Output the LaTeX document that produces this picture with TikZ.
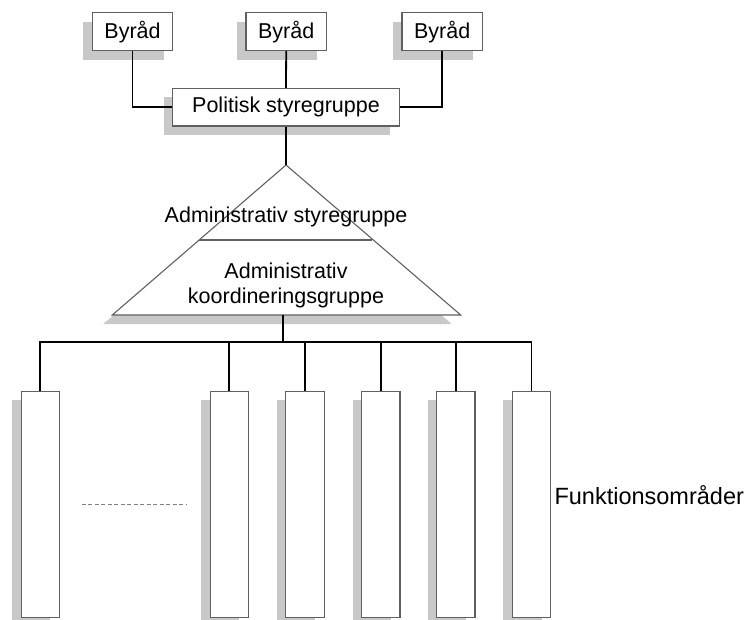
\documentclass[tikz,border=0pt]{standalone}
\usepackage{fontspec}
\setmainfont{Liberation Sans}
\usetikzlibrary{shadows}
\definecolor{shadowgray}{HTML}{C8C8C8}
\definecolor{edgegray}{HTML}{606060}
\tikzset{
  shbox/.style={draw=edgegray, line width=1.1pt, fill=white, inner sep=0pt,
    drop shadow={shadow xshift=-9pt, shadow yshift=-9pt, fill=shadowgray, opacity=1}},
  smallbox/.style={shbox, minimum width=80.4pt, minimum height=38pt},
  tallbox/.style={shbox, minimum width=38.3pt, minimum height=226.3pt},
  conn/.style={draw=black, line width=1.8pt},
  lbl/.style={font=\fontsize{21.5pt}{25pt}\selectfont, text=black}
}
\begin{document}
\begin{tikzpicture}[x=1pt,y=-1pt]
\useasboundingbox (0,0) rectangle (744,620);
\clip (0,0) rectangle (744,620);
% top boxes
\node[smallbox, lbl] (b1) at (132.5,31.7) {Byråd};
\node[smallbox, lbl] (b2) at (286.2,31.7) {Byråd};
\node[smallbox, lbl] (b3) at (442.2,31.7) {Byråd};
\node[shbox, lbl, minimum width=226.6pt, minimum height=37.7pt] (pol) at (286,107.2) {Politisk styregruppe};
\draw[conn] (b1.south) |- (pol.west);
\draw[conn] (b2.south) -- (pol.north);
\draw[conn] (b3.south) |- (pol.east);
% triangle
\coordinate (apex) at (286,165);
\coordinate (bl) at (112.3,315);
\coordinate (br) at (460.7,315);
\coordinate (dl) at (199.3,240);
\coordinate (dr) at (371.7,240);
\coordinate (tb) at (283,315);
\fill[shadowgray] ([shift={(-9pt,-9pt)}]apex) -- ([shift={(-9pt,-9pt)}]bl) -- ([shift={(-9pt,-9pt)}]br) -- cycle;
\draw[draw=edgegray, line width=1.1pt, fill=white] (apex) -- (bl) -- (br) -- cycle;
\draw[draw=edgegray, line width=1.1pt] (dl) -- (dr);
\draw[conn] (pol.south) -- (apex);
\node[lbl] (adm) at (286,216.7) {Administrativ styregruppe};
\node[lbl, align=center] (koord) at (286,285.8) {Administrativ\\koordineringsgruppe};
% bus
\coordinate (bus) at (283,342.3);
\draw[conn] (tb) -- (bus);
\node[tallbox] (f1) at (40.2,504.2) {};
\node[tallbox] (f2) at (229.2,504.2) {};
\node[tallbox] (f3) at (305,504.2) {};
\node[tallbox] (f4) at (380.8,504.2) {};
\node[tallbox] (f5) at (455.8,504.2) {};
\node[tallbox] (f6) at (531.5,504.2) {};
\draw[conn] (f1.north) |- (bus) -| (f6.north);
\foreach \n in {f2,f3,f4,f5} {
  \draw[conn] (\n.north) -- (\n.north |- bus);
}
% dashed
\coordinate (d1) at (81.7,504.3);
\coordinate (d2) at (187.3,504.3);
\draw[draw=gray, line width=1pt, dash pattern=on 4pt off 2.5pt] (d1) -- (d2);
\node[font=\fontsize{23.5pt}{27pt}\selectfont, anchor=west] (funk) at (551,495) {Funktionsområder};
\end{tikzpicture}
\end{document}
